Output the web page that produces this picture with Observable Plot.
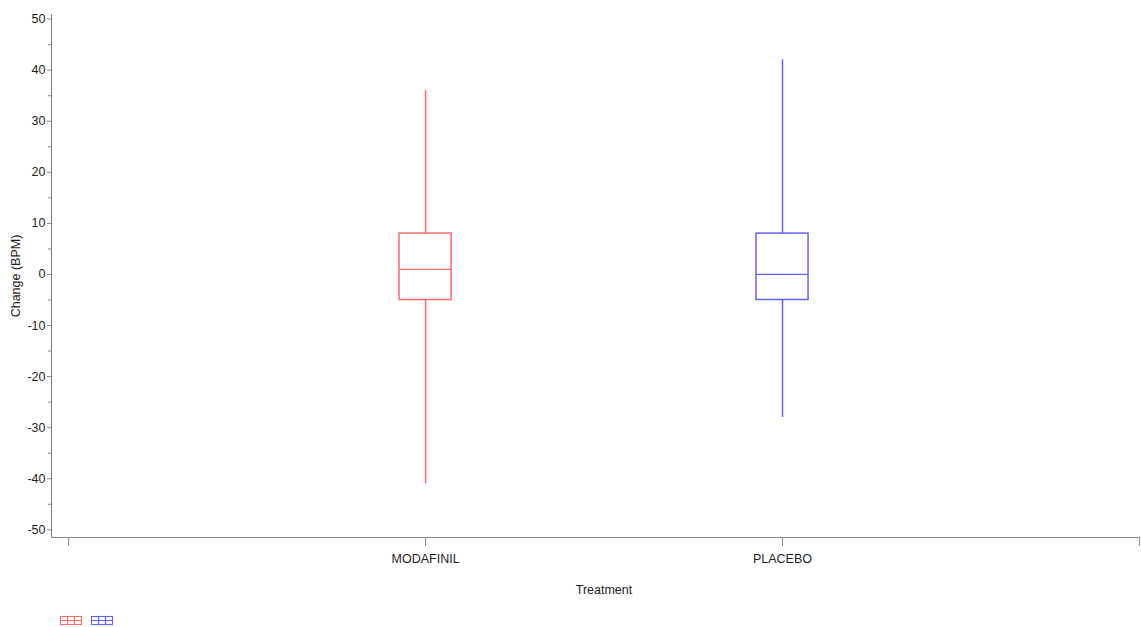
<!DOCTYPE html>
<html>
<head>
<meta charset="utf-8">
<script src="https://cdn.jsdelivr.net/npm/d3@7"></script>
<script src="https://cdn.jsdelivr.net/npm/@observablehq/plot@0.6"></script>
<style>
  html, body { margin: 0; padding: 0; background: #fff; }
  body { width: 1141px; height: 627px; overflow: hidden; font-family: "Liberation Sans", Arial, sans-serif; }
  #legend { position: relative; height: 22px; }
  #legend svg { position: absolute; top: 0; }
</style>
</head>
<body>
<div id="chart"></div>
<div id="legend"></div>
<script>
// Treatments and their box-plot summaries (change in heart rate, BPM)
const treatments = ["MODAFINIL", "PLACEBO"];
const colors = ["#ff6a6a", "#6262ff"];
const whiskerLow = [-41, -28];
const q1 = [-5, -5];
const median = [1, 0];
const q3 = [8, 8];
const whiskerHigh = [36, 42];

// Category slots on the treatment axis: an empty slot at each end
const slotLabels = ["", "MODAFINIL", "PLACEBO", ""];
const yTicks = [-50, -40, -30, -20, -10, 0, 10, 20, 30, 40, 50];
const yMinorTicks = [-45, -35, -25, -15, -5, 5, 15, 25, 35, 45];

const rows = treatments.map((t, k) => ({
  treatment: t,
  pos: slotLabels.indexOf(t),
  color: colors[k],
  lo: whiskerLow[k],
  q1: q1[k],
  med: median[k],
  q3: q3[k],
  hi: whiskerHigh[k]
}));

const half = 0.073; // half box width, in slot units
const W = 1141, H = 605;
const axisColor = "#8a8a8a";
const textColor = "#1e1e1e";

const chart = Plot.plot({
  width: W,
  height: H,
  marginLeft: 51,
  marginRight: 1,
  marginTop: 14,
  marginBottom: 68,
  style: { fontFamily: "Liberation Sans, Arial, sans-serif", fontSize: "12.5px", color: textColor, background: "#fff" },
  x: { type: "linear", domain: [-0.048, 3.003] },
  y: { domain: [-51.5, 50.9] },
  marks: [
    // axis lines
    Plot.ruleX([-0.048], { stroke: axisColor, strokeWidth: 1.2 }),
    Plot.ruleY([-51.5], { stroke: axisColor, strokeWidth: 1.2 }),
    Plot.axisY({
      ticks: yTicks, tickSize: 4, tickPadding: 2, stroke: axisColor,
      tickFormat: d => String(d),
      label: "Change (BPM)", labelAnchor: "center", labelArrow: "none", labelOffset: 40,
      fill: textColor
    }),
    Plot.axisY({ ticks: yMinorTicks, tickSize: 3, tickFormat: () => "", stroke: axisColor, label: null }),
    Plot.axisX({
      ticks: [0, 1, 2, 3], tickSize: 9, tickPadding: 8, stroke: axisColor,
      tickFormat: i => slotLabels[i], label: null,
      fill: textColor
    }),
    // x axis title
    Plot.text(["Treatment"], {
      frameAnchor: "bottom", lineAnchor: "middle", dy: 52, dx: 8, fill: textColor
    }),
    // whiskers
    Plot.ruleX(rows, { x: "pos", y1: "q3", y2: "hi", stroke: "color", strokeWidth: 1.5 }),
    Plot.ruleX(rows, { x: "pos", y1: "lo", y2: "q1", stroke: "color", strokeWidth: 1.5 }),
    // interquartile boxes
    Plot.rect(rows, {
      x1: d => d.pos - half, x2: d => d.pos + half, y1: "q1", y2: "q3",
      fill: "none", stroke: "color", strokeWidth: 1.5
    }),
    // medians
    Plot.ruleY(rows, { y: "med", x1: d => d.pos - half, x2: d => d.pos + half, stroke: "color", strokeWidth: 1.2 })
  ]
});
document.getElementById("chart").appendChild(chart);

// Small box-plot glyph legend, one glyph per treatment
const legend = d3.select("#legend");
rows.forEach((d, k) => {
  const svg = legend.append("svg")
    .attr("width", 26).attr("height", 14)
    .style("left", (57 + k * 31) + "px")
    .style("top", "8px");
  const g = svg.append("g").attr("stroke", d.color).attr("fill", "none").attr("stroke-width", 1.1);
  g.append("rect").attr("x", 3.5).attr("y", 3.5).attr("width", 21).attr("height", 8);
  g.append("line").attr("x1", 3.5).attr("x2", 24.5).attr("y1", 7.5).attr("y2", 7.5);
  g.append("line").attr("x1", 10.5).attr("x2", 10.5).attr("y1", 3.5).attr("y2", 11.5);
  g.append("line").attr("x1", 17.5).attr("x2", 17.5).attr("y1", 3.5).attr("y2", 11.5);
});
</script>
</body>
</html>
